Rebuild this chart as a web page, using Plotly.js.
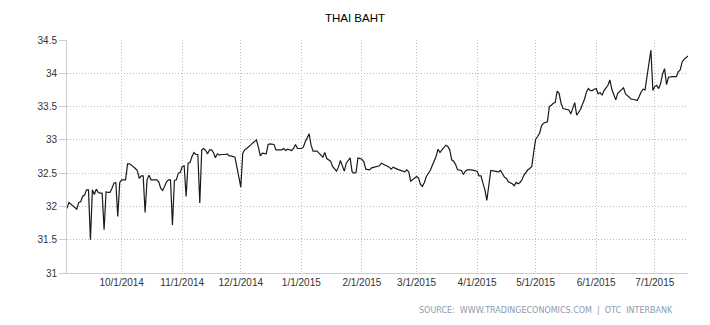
<!DOCTYPE html>
<html>
<head>
<meta charset="utf-8">
<script src="https://cdn.plot.ly/plotly-3.0.1.min.js"></script>
<style>html,body{margin:0;padding:0;background:#fff;}#chart{width:710px;height:325px;}</style>
</head>
<body>
<div id="chart"></div>
<script>
const dates = [
"2014-09-03","2014-09-04","2014-09-08","2014-09-09","2014-09-10","2014-09-11","2014-09-12","2014-09-13","2014-09-14","2014-09-15",
"2014-09-16","2014-09-17","2014-09-18","2014-09-19","2014-09-20","2014-09-21","2014-09-22","2014-09-23","2014-09-24","2014-09-25",
"2014-09-26","2014-09-27","2014-09-28","2014-09-29","2014-09-30",
"2014-10-01","2014-10-02","2014-10-03","2014-10-04","2014-10-05","2014-10-06","2014-10-07","2014-10-08","2014-10-09","2014-10-10",
"2014-10-11","2014-10-12","2014-10-13","2014-10-14","2014-10-15","2014-10-16","2014-10-17","2014-10-18","2014-10-19","2014-10-20",
"2014-10-21","2014-10-22","2014-10-23","2014-10-24","2014-10-25","2014-10-26","2014-10-27","2014-10-28","2014-10-29","2014-10-30","2014-10-31",
"2014-11-01","2014-11-02","2014-11-03","2014-11-04","2014-11-05","2014-11-06","2014-11-07","2014-11-08","2014-11-09","2014-11-10",
"2014-11-11","2014-11-12","2014-11-13","2014-11-14","2014-11-15","2014-11-16","2014-11-17","2014-11-18","2014-11-19","2014-11-20",
"2014-11-21","2014-11-23","2014-11-24","2014-11-25","2014-11-26","2014-11-28","2014-11-29","2014-11-30",
"2014-12-01","2014-12-02","2014-12-03","2014-12-04","2014-12-05","2014-12-06","2014-12-07","2014-12-08","2014-12-09","2014-12-10",
"2014-12-11","2014-12-12","2014-12-13","2014-12-14","2014-12-15","2014-12-16","2014-12-18","2014-12-19","2014-12-20","2014-12-22",
"2014-12-23","2014-12-24","2014-12-25","2014-12-27","2014-12-28","2014-12-29","2014-12-30",
"2015-01-01","2015-01-02","2015-01-03","2015-01-05","2015-01-06","2015-01-07","2015-01-09","2015-01-10","2015-01-12","2015-01-13",
"2015-01-14","2015-01-16","2015-01-17","2015-01-19","2015-01-20","2015-01-21","2015-01-22","2015-01-23","2015-01-24","2015-01-26",
"2015-01-27","2015-01-28","2015-01-29","2015-01-30",
"2015-02-01","2015-02-02","2015-02-03","2015-02-04","2015-02-05","2015-02-06","2015-02-08","2015-02-10","2015-02-11","2015-02-13",
"2015-02-15","2015-02-16","2015-02-17","2015-02-19","2015-02-20","2015-02-21","2015-02-23","2015-02-24","2015-02-25","2015-02-26","2015-02-27",
"2015-03-01","2015-03-02","2015-03-03","2015-03-04","2015-03-05","2015-03-06","2015-03-08","2015-03-09","2015-03-10","2015-03-11",
"2015-03-12","2015-03-13","2015-03-14","2015-03-15","2015-03-16","2015-03-17","2015-03-18","2015-03-19","2015-03-20","2015-03-21",
"2015-03-22","2015-03-24","2015-03-25","2015-03-26","2015-03-27","2015-03-29","2015-03-30",
"2015-04-01","2015-04-02","2015-04-03","2015-04-04","2015-04-05","2015-04-06","2015-04-08","2015-04-10","2015-04-11","2015-04-12",
"2015-04-13","2015-04-14","2015-04-15","2015-04-16","2015-04-17","2015-04-19","2015-04-20","2015-04-21","2015-04-22","2015-04-23",
"2015-04-24","2015-04-25","2015-04-27","2015-04-28","2015-04-29","2015-04-30",
"2015-05-01","2015-05-02","2015-05-03","2015-05-04","2015-05-05","2015-05-07","2015-05-08","2015-05-09","2015-05-10","2015-05-11",
"2015-05-12","2015-05-13","2015-05-14","2015-05-15","2015-05-16","2015-05-17","2015-05-18","2015-05-19","2015-05-20","2015-05-21",
"2015-05-22","2015-05-23","2015-05-24","2015-05-25","2015-05-26","2015-05-27","2015-05-28","2015-05-29","2015-05-30","2015-05-31",
"2015-06-01","2015-06-02","2015-06-03","2015-06-04","2015-06-05","2015-06-07","2015-06-08","2015-06-09","2015-06-10","2015-06-11",
"2015-06-12","2015-06-13","2015-06-14","2015-06-15","2015-06-16","2015-06-18","2015-06-19","2015-06-20","2015-06-22","2015-06-23",
"2015-06-24","2015-06-25","2015-06-26","2015-06-27","2015-06-28","2015-06-29","2015-06-30",
"2015-07-01","2015-07-02","2015-07-03","2015-07-04","2015-07-05","2015-07-06","2015-07-07","2015-07-08","2015-07-09","2015-07-10",
"2015-07-12","2015-07-13","2015-07-14","2015-07-15","2015-07-16","2015-07-17","2015-07-18"
];
const rates = [
31.97,32.06,31.96,32.06,32.07,32.15,32.17,32.25,32.25,31.50,
32.25,32.18,32.26,32.21,32.20,32.20,31.65,32.22,32.21,32.21,
32.27,32.35,32.36,31.85,32.36,
32.40,32.40,32.40,32.64,32.64,32.62,32.60,32.57,32.54,32.42,
32.46,32.46,31.91,32.40,32.47,32.40,32.40,32.40,32.40,32.37,
32.27,32.24,32.30,32.37,32.40,32.40,31.72,32.39,32.40,32.50,32.51,
32.60,32.61,32.15,32.65,32.66,32.75,32.81,32.78,32.78,32.05,
32.85,32.87,32.84,32.79,32.85,32.85,32.81,32.73,32.79,32.77,
32.78,32.78,32.79,32.76,32.76,32.74,32.57,32.40,
32.29,32.80,32.85,32.87,32.89,32.92,32.95,32.98,33.00,32.89,
32.76,32.80,32.79,32.79,32.93,32.94,32.93,32.85,32.85,32.85,
32.87,32.84,32.86,32.84,32.87,32.93,32.87,
32.87,32.89,32.97,33.09,32.92,32.83,32.83,32.80,32.74,32.81,
32.72,32.68,32.60,32.53,32.59,32.69,32.60,32.53,32.65,32.73,
32.52,32.50,32.51,32.73,
32.71,32.67,32.56,32.56,32.55,32.58,32.60,32.61,32.65,32.62,
32.59,32.56,32.59,32.56,32.55,32.54,32.52,32.55,32.52,32.38,32.40,
32.45,32.43,32.33,32.30,32.36,32.45,32.54,32.61,32.67,32.75,
32.86,32.81,32.85,32.89,32.92,32.90,32.85,32.70,32.68,32.63,
32.55,32.54,32.48,32.53,32.55,32.55,32.54,
32.53,32.46,32.46,32.35,32.25,32.09,32.54,32.53,32.53,32.52,
32.54,32.49,32.44,32.42,32.37,32.34,32.31,32.36,32.34,32.36,
32.40,32.47,32.55,32.57,32.60,32.82,
33.01,33.05,33.10,33.21,33.25,33.27,33.50,33.52,33.55,33.56,
33.73,33.70,33.55,33.47,33.46,33.46,33.45,33.39,33.49,33.56,
33.37,33.42,33.46,33.54,33.61,33.72,33.77,33.74,33.74,33.76,
33.77,33.69,33.71,33.67,33.74,33.82,33.90,33.76,33.69,33.60,
33.70,33.73,33.76,33.78,33.69,33.64,33.61,33.61,33.59,33.65,
33.72,33.76,33.75,33.95,34.15,34.35,33.74,
33.80,33.82,33.77,33.85,33.99,34.07,33.83,33.94,33.95,33.95,
33.95,34.02,34.05,34.17,34.21,34.24,34.26
];
const yTicks = [31, 31.5, 32, 32.5, 33, 33.5, 34, 34.5];
const yTickLabels = ["31", "31.5", "32", "32.5", "33", "33.5", "34", "34.5"];
const chartTitle = "THAI BAHT";
const sourceText = "SOURCE:\u00a0\u00a0WWW.TRADINGECONOMICS.COM\u00a0\u00a0|\u00a0\u00a0OTC\u00a0\u00a0INTERBANK";

const font = "Liberation Sans, Arial, sans-serif";
const gridDash = "1px,2px";
Plotly.newPlot("chart", [{
  x: dates, y: rates, type: "scatter", mode: "lines",
  line: {color: "#1a1a1a", width: 1.2}, hoverinfo: "x+y"
}], {
  width: 710, height: 325,
  margin: {l: 67, r: 22, t: 40, b: 52},
  paper_bgcolor: "#fff", plot_bgcolor: "#fff",
  showlegend: false,
  title: {text: chartTitle, x: 0.5, xanchor: "center", y: 0.945, yanchor: "middle",
          font: {family: font, size: 11.5, color: "#000"}},
  xaxis: {
    type: "date", range: [dates[0], dates[dates.length - 1]],
    tick0: "2014-10-01", dtick: "M1", tickformat: "%-m/%-d/%Y",
    showgrid: true, gridcolor: "#bdbdbd", griddash: gridDash, gridwidth: 1,
    showline: true, linecolor: "#cccccc", linewidth: 1,
    ticks: "", zeroline: false,
    tickfont: {family: font, size: 10, color: "#333"}
  },
  yaxis: {
    range: [31, 34.5], tickvals: yTicks, ticktext: yTickLabels,
    showgrid: true, gridcolor: "#bdbdbd", griddash: gridDash, gridwidth: 1,
    showline: true, linecolor: "#cccccc", linewidth: 1,
    ticks: "outside", ticklen: 7, tickcolor: "#cccccc", zeroline: false,
    tickfont: {family: font, size: 10, color: "#333"}
  },
  annotations: [{
    text: sourceText, xref: "paper", yref: "paper", x: 0.5636, y: -0.159,
    xanchor: "left", yanchor: "middle", showarrow: false,
    font: {family: "DejaVu Sans, sans-serif", size: 8, color: "#8c9aad"}
  }]
}, {displayModeBar: false, staticPlot: true});
</script>
</body>
</html>
